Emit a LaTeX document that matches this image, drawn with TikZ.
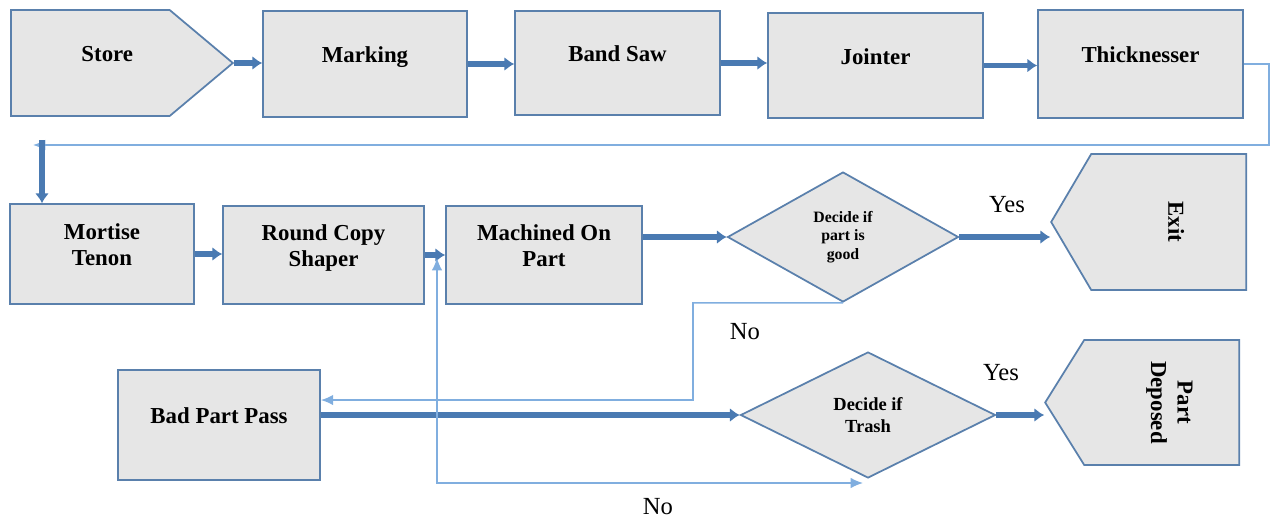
\documentclass[tikz,border=0pt]{standalone}
\usepackage{fontspec}
\setmainfont{Liberation Serif}
\usetikzlibrary{shapes, arrows.meta, positioning}
\definecolor{boxfill}{HTML}{E6E6E6}
\definecolor{boxline}{HTML}{5A80AC}
\definecolor{flowblue}{HTML}{4A7AB2}
\definecolor{backblue}{HTML}{80AEDF}
\tikzset{backtip/.tip={Latex[length=7pt,width=6pt]}}

\begin{document}
\begin{tikzpicture}[x=0.02cm, y=-0.02cm, >={Latex[length=5.5pt,width=8pt]},
    shapebase/.style={draw=boxline, fill=boxfill, line width=1pt, align=center,
      font=\fontsize{13}{15}\selectfont\bfseries, inner sep=1pt},
    stage/.style={shapebase, text depth=10.5pt},
    choice/.style={shapebase, diamond, inner sep=0pt},
    endstage/.style={shapebase, signal, signal from=nowhere},
    flow/.style={->, draw=flowblue, line width=3pt},
    back/.style={draw=backblue, line width=0.9pt, -backtip},
    answer/.style={font=\fontsize{14}{16}\selectfont}]
    \useasboundingbox (0,0) rectangle (1270,518);

    % first row
    \node[endstage, signal to=east, signal pointer angle=80, text depth=10.5pt,
      minimum width=4.44cm, minimum height=2.12cm, anchor=west] at (10,63) (store)
      {\hspace{0.68cm}Store};
    \node[stage, minimum width=4.08cm, minimum height=2.12cm] at (365,64) (marking) {Marking};
    \node[stage, minimum width=4.1cm, minimum height=2.08cm] at (617.5,63) (bandsaw) {Band Saw};
    \node[stage, minimum width=4.3cm, minimum height=2.1cm] at (875.5,65.5) (jointer) {Jointer};
    \node[stage, minimum width=4.1cm, minimum height=2.16cm] at (1140.5,64) (thick) {Thicknesser};

    % second row
    \node[stage, minimum width=3.68cm, minimum height=2cm] at (102,254) (mortise) {Mortise\\Tenon};
    \node[stage, minimum width=4.02cm, minimum height=1.96cm] at (323.5,255) (round) {Round Copy\\Shaper};
    \node[stage, minimum width=3.92cm, minimum height=1.96cm] at (544,255) (machined) {Machined On\\Part};
    \node[choice, minimum width=4.62cm, minimum height=2.6cm,
      font=\fontsize{9}{10.5}\selectfont\bfseries] at (843,237) (good) {Decide if\\part is\\good};
    \node[endstage, signal to=west, signal pointer angle=119,
      minimum width=3.9cm, minimum height=2.72cm, anchor=east] at (1247,222) (exit)
      {\hspace{0.3cm}\rotatebox{-90}{Exit}};

    % third row
    \node[stage, minimum width=4.04cm, minimum height=2.2cm] at (219,425) (bad) {Bad Part Pass};
    \node[choice, minimum width=5.1cm, minimum height=2.52cm,
      font=\fontsize{10.5}{12.5}\selectfont\bfseries] at (868,415) (trash) {Decide if\\Trash};
    \node[endstage, signal to=west, signal pointer angle=116,
      minimum width=3.88cm, minimum height=2.5cm, anchor=east] at (1240,402.5) (deposed)
      {\hspace{0.32cm}\rotatebox{-90}{\begin{tabular}{@{}c@{}}Part\\Deposed\end{tabular}}};

    \node[answer] at (1007,205) (yes1) {Yes};
    \node[answer] at (745,332) (no1) {No};
    \node[answer] at (1001,373) (yes2) {Yes};
    \node[answer] at (658,507) (no2) {No};

    \coordinate (wrap) at (33,145);
    \coordinate (drop) at (42,140);
    \coordinate (retry) at (437,258);
    \coordinate (trashin) at (863,483);

    \draw[flow] (store.east) -- (store.east -| marking.west);
    \draw[flow] (marking.east) -- (marking.east -| bandsaw.west);
    \draw[flow] (bandsaw.east) -- (bandsaw.east -| jointer.west);
    \draw[flow] (jointer.east) -- (jointer.east -| thick.west);
    \draw[back] (thick.east) -- ++(25,0) |- (wrap);
    \draw[flow, line width=3.6pt] (drop) -- (drop |- mortise.north);
    \draw[flow] (mortise.east) -- (mortise.east -| round.west);
    \draw[flow] (round.east) -- (round.east -| machined.west);
    \draw[flow] (machined.east |- good.west) -- (good.west);
    \draw[flow] (good.east) -- (good.east -| exit.west);
    \draw[back] (good.south) -| (693,400) -- ([yshift=0.5cm]bad.east);
    \draw[flow] (trash.west -| bad.east) -- (trash.west);
    \draw[flow, line width=3.8pt] (trash.east) -- (trash.east -| deposed.west);
    \draw[back, backtip-backtip] (retry) |- (trashin);
\end{tikzpicture}
\end{document}
